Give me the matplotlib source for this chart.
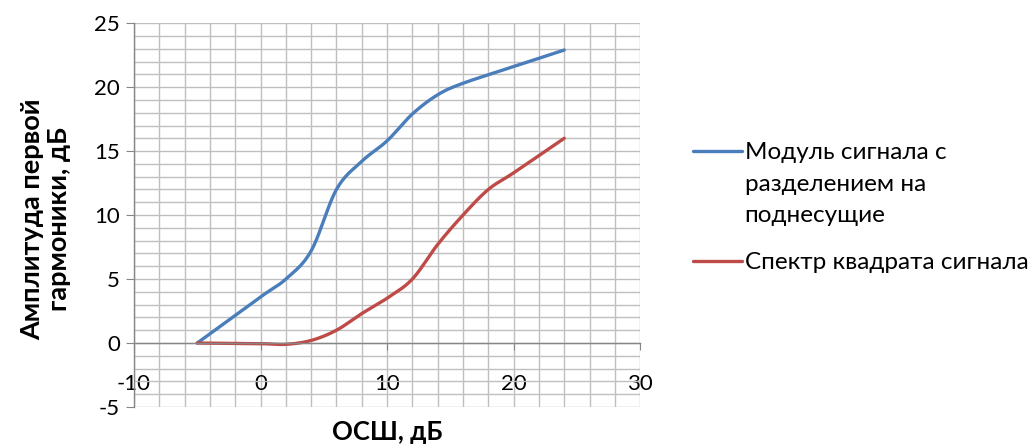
import numpy as np
import matplotlib.pyplot as plt
from matplotlib.ticker import MultipleLocator

plt.rcParams['font.family'] = ['Lato', 'DejaVu Sans']
plt.rcParams['axes.unicode_minus'] = False

# ОСШ, дБ
snr_mod = [-5, 0, 2, 4, 6, 8, 10, 12, 14, 16, 20, 24]
amp_mod = [0, 3.6, 5.0, 7.2, 12.0, 14.2, 15.8, 17.9, 19.4, 20.3, 21.6, 22.9]

snr_sq = [-5, 0, 2, 4, 6, 8, 10, 12, 14, 16, 18, 20, 24]
amp_sq = [0, -0.05, -0.1, 0.2, 1.0, 2.3, 3.5, 5.0, 7.7, 10.0, 12.0, 13.3, 16.0]

label_mod = 'Модуль сигнала с\nразделением на\nподнесущие'
label_sq = 'Спектр квадрата сигнала'


def smooth(x, y, n=30):
    # Catmull-Rom style Bezier smoothing between the points
    p = np.column_stack([x, y]).astype(float)
    p = np.vstack([p[0], p, p[-1]])
    t = np.linspace(0, 1, n)[:, None]
    out = []
    for i in range(1, len(p) - 2):
        p0, p1, p2, p3 = p[i - 1], p[i], p[i + 1], p[i + 2]
        c1 = p1 + (p2 - p0) / 6
        c2 = p2 - (p3 - p1) / 6
        seg = ((1 - t) ** 3) * p1 + 3 * ((1 - t) ** 2) * t * c1 + 3 * (1 - t) * t ** 2 * c2 + t ** 3 * p2
        out.append(seg)
    out = np.vstack(out)
    return out[:, 0], out[:, 1]


fig = plt.figure(figsize=(10.33, 4.45), dpi=100)
ax = fig.add_axes([0.1297, 0.0854, 0.49, 0.8626])

xs, ys = smooth(snr_mod, amp_mod)
ax.plot(xs, ys, color='#4a7ebb', lw=2.4, label=label_mod, solid_capstyle='round')
xs, ys = smooth(snr_sq, amp_sq)
ax.plot(xs, ys, color='#be4b48', lw=2.4, label=label_sq, solid_capstyle='round')

ax.set_xlim(-10, 30)
ax.set_ylim(-5, 25)
ax.xaxis.set_major_locator(MultipleLocator(10))
ax.xaxis.set_minor_locator(MultipleLocator(2))
ax.yaxis.set_major_locator(MultipleLocator(5))
ax.yaxis.set_minor_locator(MultipleLocator(1))
ax.grid(which='both', color='#bfbfbf', lw=1.0)
ax.set_axisbelow(True)

ax.spines['bottom'].set_position(('data', 0))
for s in ['top', 'right']:
    ax.spines[s].set_visible(False)
for s in ['bottom', 'left']:
    ax.spines[s].set_color('#868686')
    ax.spines[s].set_linewidth(1.0)

ax.tick_params(axis='y', which='major', length=6, color='#868686', labelsize=16, pad=4)
ax.tick_params(axis='x', which='major', length=5, color='#868686', labelsize=16, pad=17)
ax.tick_params(which='minor', length=0)

ax.set_xlabel('ОСШ, дБ', fontsize=18.5, fontweight='bold')
ax.xaxis.set_label_coords(0.5, -0.035)
ax.set_ylabel('Амплитуда первой\nгармоники, дБ', fontsize=19.5, fontweight='bold',
              linespacing=1.15)
ax.yaxis.set_label_coords(-0.125, 0.49)

leg = fig.legend(loc='upper left', bbox_to_anchor=(0.671, 0.68), frameon=False,
                 fontsize=17.5, handlelength=2.0, handletextpad=0.12, labelspacing=1.05,
                 borderpad=0, borderaxespad=0)
for t in leg.get_texts():
    t.set_linespacing(1.62)
# put each handle level with the first line of its label
for col in leg._legend_handle_box.get_children():
    for row in col.get_children():
        row.align = 'top'

fig.savefig('out.png', dpi=100)
